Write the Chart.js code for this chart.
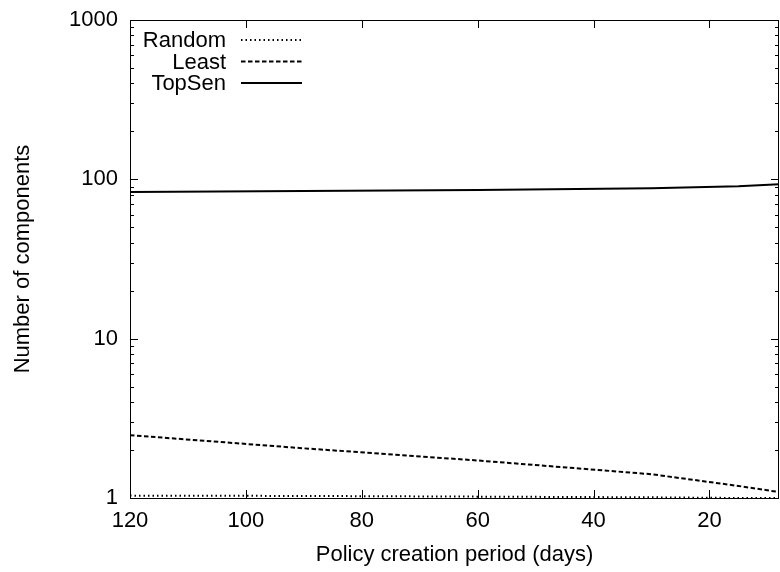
<!DOCTYPE html>
<html>
<head>
<meta charset="utf-8">
<script src="https://cdn.jsdelivr.net/npm/chart.js@4.4.1/dist/chart.umd.min.js"></script>
<style>
  html, body { margin: 0; padding: 0; background: #fff; overflow: hidden; }
  #wrap { width: 780px; height: 572px; }
</style>
</head>
<body>
<div id="wrap"><canvas id="c" width="780" height="572"></canvas></div>
<script>
const days = [120, 90, 60, 30, 15, 8];
const randomVals = [1.035, 1.03, 1.02, 1.01, 1.0, 1.0];
const leastVals = [2.48, 2.05, 1.72, 1.41, 1.19, 1.09];
const topSenVals = [83.3, 84.5, 85.8, 87.8, 90.5, 93.0];
const xTicks = [120, 100, 80, 60, 40, 20];
const yTicks = [1, 10, 100, 1000];

const FONT = 'Liberation Sans, Arial, Helvetica, sans-serif';

function pts(vals) { return days.map((d, i) => ({ x: d, y: vals[i] })); }

const frame = {
  id: 'frame',
  afterDatasetsDraw(chart) {
    const ctx = chart.ctx;
    const a = chart.chartArea;
    const xs = chart.scales.x, ys = chart.scales.y;
    ctx.save();
    ctx.strokeStyle = '#000';
    ctx.lineWidth = 1;
    ctx.setLineDash([]);
    ctx.strokeRect(Math.round(a.left) + 0.5, Math.round(a.top) + 0.5,
                   Math.round(a.right - a.left) - 1, Math.round(a.bottom - a.top));
    ctx.beginPath();
    xTicks.forEach(v => {
      const px = Math.round(xs.getPixelForValue(v)) + 0.5;
      ctx.moveTo(px, a.bottom); ctx.lineTo(px, a.bottom - 8);
      ctx.moveTo(px, a.top); ctx.lineTo(px, a.top + 8);
    });
    for (let d = 0; d < yTicks.length; d++) {
      const base = yTicks[d];
      const py = Math.round(ys.getPixelForValue(base)) + 0.5;
      ctx.moveTo(a.left, py); ctx.lineTo(a.left + 8, py);
      ctx.moveTo(a.right, py); ctx.lineTo(a.right - 8, py);
      if (d < yTicks.length - 1) {
        for (let m = 2; m <= 9; m++) {
          const my = Math.round(ys.getPixelForValue(base * m)) + 0.5;
          ctx.moveTo(a.left, my); ctx.lineTo(a.left + 4, my);
          ctx.moveTo(a.right, my); ctx.lineTo(a.right - 4, my);
        }
      }
    }
    ctx.stroke();

    ctx.font = '22px ' + FONT;
    ctx.fillStyle = '#000';
    ctx.textAlign = 'right';
    ctx.textBaseline = 'middle';
    const rowY = [40, 61.5, 83];
    chart.data.datasets.forEach((ds, i) => {
      const y = rowY[i];
      ctx.fillText(ds.label, 226, y + 1);
      ctx.beginPath();
      ctx.lineWidth = ds.borderWidth;
      ctx.setLineDash(ds.borderDash || []);
      ctx.moveTo(241, y);
      ctx.lineTo(302, y);
      ctx.stroke();
    });
    ctx.restore();
  }
};

new Chart(document.getElementById('c'), {
  type: 'line',
  data: {
    datasets: [
      { label: 'Random', data: pts(randomVals), borderColor: '#000', borderWidth: 2, borderDash: [1.5, 3], pointRadius: 0, tension: 0, fill: false },
      { label: 'Least', data: pts(leastVals), borderColor: '#000', borderWidth: 2, borderDash: [4.5, 2.5], pointRadius: 0, tension: 0, fill: false },
      { label: 'TopSen', data: pts(topSenVals), borderColor: '#000', borderWidth: 2, pointRadius: 0, tension: 0, fill: false }
    ]
  },
  options: {
    responsive: false,
    animation: false,
    devicePixelRatio: 1,
    layout: { padding: { top: 20, right: 1, left: 0, bottom: 0 } },
    plugins: { legend: { display: false }, tooltip: { enabled: false } },
    scales: {
      x: {
        type: 'linear',
        reverse: true,
        min: 8,
        max: 120,
        grid: { display: false, drawTicks: false },
        border: { display: false },
        afterBuildTicks(s) { s.ticks = xTicks.map(v => ({ value: v })); },
        afterFit(s) { s.height = 74; s.paddingLeft = 0; s.paddingRight = 0; },
        ticks: { color: '#000', font: { family: FONT, size: 22 }, padding: 10, maxRotation: 0, autoSkip: false },
        title: { display: true, text: 'Policy creation period (days)', color: '#000', font: { family: FONT, size: 22 }, padding: { top: 0, bottom: 4 } }
      },
      y: {
        type: 'logarithmic',
        min: 1,
        max: 1000,
        grid: { display: false, drawTicks: false },
        border: { display: false },
        afterBuildTicks(s) { s.ticks = yTicks.map(v => ({ value: v })); },
        afterFit(s) { s.width = 130; s.paddingTop = 0; s.paddingBottom = 0; },
        ticks: { color: '#000', font: { family: FONT, size: 22 }, padding: 12, callback: v => String(v), autoSkip: false },
        title: { display: true, text: 'Number of components', color: '#000', font: { family: FONT, size: 22 }, padding: { top: 10, bottom: 0 } }
      }
    }
  },
  plugins: [frame]
});
</script>
</body>
</html>
